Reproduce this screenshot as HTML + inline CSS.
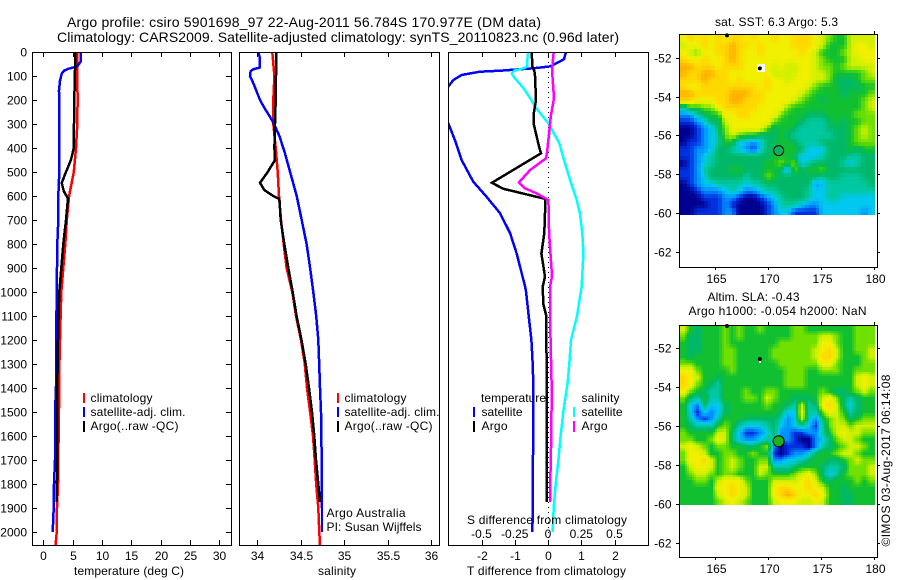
<!DOCTYPE html>
<html lang="en">
<head>
<meta charset="utf-8">
<title>Argo profile 5901698_97</title>
<style>
html,body{margin:0;padding:0;background:#fff;}
svg{display:block;}
text{font-family:"Liberation Sans",sans-serif;font-size:12px;fill:#000;}
.ttl{font-size:14px;}
</style>
</head>
<body>
<svg id="figure" xmlns="http://www.w3.org/2000/svg" width="900" height="580" viewBox="0 0 900 580">
<defs>
<clipPath id="clip-p1"><rect x="32" y="52" width="200" height="493"/></clipPath>
<clipPath id="clip-p2"><rect x="239" y="52" width="200" height="493"/></clipPath>
<clipPath id="clip-p3"><rect x="448" y="52" width="200" height="493"/></clipPath>
</defs>
<rect x="0" y="0" width="900" height="580" fill="#fff"/>
<text class="ttl" x="67" y="27" textLength="474" lengthAdjust="spacing">Argo profile: csiro 5901698_97 22-Aug-2011 56.784S 170.977E (DM data)</text>
<text class="ttl" x="57" y="42" textLength="562" lengthAdjust="spacing">Climatology: CARS2009. Satellite-adjusted climatology: synTS_20110823.nc (0.96d later)</text>

<g id="layer-maps"></g>
<g id="layer-p1" clip-path="url(#clip-p1)"></g>
<g id="layer-p2" clip-path="url(#clip-p2)"></g>
<g id="layer-p3" clip-path="url(#clip-p3)"></g>
<g id="layer-axes"></g>

<text x="74" y="575" textLength="110" lengthAdjust="spacing">temperature (deg C)</text>
<text x="318" y="575" textLength="38" lengthAdjust="spacing">salinity</text>
<text x="467" y="575" textLength="159" lengthAdjust="spacing">T difference from climatology</text>
<text x="467" y="524" textLength="160" lengthAdjust="spacing">S difference from climatology</text>

<rect x="83" y="393" width="2" height="10" fill="#ff0000"/>
<rect x="83" y="407" width="2" height="10" fill="#0000ff"/>
<rect x="83" y="421" width="2" height="11" fill="#000"/>
<text x="90.5" y="402" textLength="62" lengthAdjust="spacing">climatology</text>
<text x="90.5" y="416" textLength="95" lengthAdjust="spacing">satellite-adj. clim.</text>
<text x="90.5" y="430" textLength="88" lengthAdjust="spacing">Argo(..raw -QC)</text>

<rect x="337" y="393" width="2" height="10" fill="#ff0000"/>
<rect x="337" y="407" width="2" height="10" fill="#0000ff"/>
<rect x="337" y="421" width="2" height="11" fill="#000"/>
<text x="344.5" y="402" textLength="62" lengthAdjust="spacing">climatology</text>
<text x="344.5" y="416" textLength="95" lengthAdjust="spacing">satellite-adj. clim.</text>
<text x="344.5" y="430" textLength="88" lengthAdjust="spacing">Argo(..raw -QC)</text>
<text x="326.5" y="517" textLength="79" lengthAdjust="spacing">Argo Australia</text>
<text x="326.5" y="531" textLength="95" lengthAdjust="spacing">PI: Susan Wijffels</text>

<text x="481" y="402" textLength="65" lengthAdjust="spacing">temperature</text>
<rect x="473" y="407" width="2" height="10" fill="#0000ff"/>
<rect x="473" y="421" width="2" height="11" fill="#000"/>
<text x="481.5" y="416" textLength="41" lengthAdjust="spacing">satellite</text>
<text x="481.5" y="430" textLength="26" lengthAdjust="spacing">Argo</text>
<text x="581.5" y="402" textLength="38" lengthAdjust="spacing">salinity</text>
<rect x="573" y="407" width="2" height="10" fill="#00ffff"/>
<rect x="573" y="421" width="2" height="11" fill="#ff00ff"/>
<text x="581.5" y="416" textLength="41" lengthAdjust="spacing">satellite</text>
<text x="581.5" y="430" textLength="26" lengthAdjust="spacing">Argo</text>

<text x="715" y="26" textLength="123" lengthAdjust="spacing">sat. SST: 6.3 Argo: 5.3</text>
<text x="707.5" y="301" textLength="92" lengthAdjust="spacing">Altim. SLA: -0.43</text>
<text x="688.5" y="315" textLength="178" lengthAdjust="spacing">Argo h1000: -0.054 h2000: NaN</text>
<text transform="translate(890,546.5) rotate(-90)" textLength="172" lengthAdjust="spacing">©IMOS 03-Aug-2017 06:14:08</text>
</svg>

<script>
/* ---------- profile data: depth (m) + value ---------- */
const tempClimDepth = [0,100,200,300,400,500,600,700,800,900,1000,1100,1200,1300,1400,1500,1600,1700,1800,1900,2000,2054];
const tempClimValue = [5.8,5.8,5.85,5.8,5.57,5.2,4.4,4.0,3.75,3.4,3.07,2.95,2.85,2.75,2.7,2.67,2.6,2.55,2.5,2.33,2.28,2.1];
const tempSatDepth = [0,40,60,70,78,90,120,160,400,500,600,700,800,900,1000,1200,1400,1500,1700,1800,1900,2000];
const tempSatValue = [6.42,6.35,5.8,4.26,3.53,3.13,2.85,2.67,2.73,2.73,2.56,2.56,2.39,2.33,2.28,2.2,2.16,2.0,2.0,1.82,1.77,1.6];
const tempArgoDepth = [0,60,200,400,420,450,500,545,580,610,700,800,900,1000,1100,1200,1400,1700,1875];
const tempArgoValue = [5.4,5.42,5.28,5.18,5.0,4.7,3.87,3.13,3.5,4.2,3.87,3.4,3.07,2.73,2.6,2.5,2.38,2.38,2.28];

const salClimDepth = [0,100,200,300,400,500,600,700,800,900,1000,1100,1200,1300,1400,1500,1600,1700,1800,1900,2000,2054];
const salClimValue = [34.176,34.2,34.187,34.187,34.215,34.238,34.253,34.276,34.307,34.34,34.406,34.448,34.506,34.55,34.575,34.61,34.644,34.663,34.68,34.705,34.716,34.724];
const salSatDepth = [0,20,65,72,80,100,130,200,230,270,300,350,420,500,600,700,800,900,1000,1100,1200,1300,1400,1500,1700,1900,2000];
const salSatValue = [34.015,34.03,34.03,33.957,33.927,33.92,33.957,34.034,34.08,34.15,34.195,34.257,34.32,34.38,34.456,34.514,34.57,34.61,34.647,34.68,34.705,34.715,34.724,34.736,34.744,34.747,34.747];
const salArgoDepth = [0,200,300,400,450,500,545,575,600,612,700,800,900,1000,1100,1200,1300,1400,1500,1600,1700,1800,1875];
const salArgoValue = [34.222,34.215,34.207,34.2,34.207,34.123,34.034,34.084,34.187,34.257,34.272,34.314,34.36,34.41,34.455,34.512,34.56,34.598,34.632,34.659,34.678,34.705,34.724];

const diffTSatDepth = [0,30,50,60,68,78,82,96,117,144,200,297,367,450,540,603,672,755,840,978,1000,1100,1200,1300,1400,1900,2000];
const diffTSatValue = [0.54,0.48,0.21,0.06,-0.44,-1.44,-2.05,-2.6,-2.85,-3.0,-3.6,-3.0,-2.8,-2.6,-2.25,-1.85,-1.44,-1.14,-0.94,-0.69,-0.66,-0.58,-0.5,-0.46,-0.44,-0.46,-0.47];
const diffTArgoDepth = [0,60,80,100,200,250,300,400,422,545,570,612,672,755,840,936,978,1050,1100,1400,1875];
const diffTArgoValue = [-0.49,-0.47,-0.41,-0.39,-0.36,-0.42,-0.43,-0.26,-0.21,-1.69,-1.34,-0.08,-0.09,-0.11,-0.2,-0.09,-0.16,-0.14,-0.05,-0.04,-0.04];
const diffSSatDepth = [0,30,60,68,78,90,110,150,200,228,297,380,450,540,617,672,755,840,978,1100,1200,1300,1375,1500,1600,1700,1800,1900,2000];
const diffSSatValue = [-0.148,-0.155,-0.155,-0.185,-0.256,-0.273,-0.248,-0.185,-0.125,-0.098,0.003,0.085,0.12,0.17,0.216,0.24,0.258,0.266,0.253,0.218,0.173,0.16,0.148,0.115,0.095,0.078,0.058,0.043,0.035];
const diffSArgoDepth = [0,75,193,270,339,422,443,492,543,568,589,617,755,936,978,1100,1400,1600,1700,1875];
const diffSArgoValue = [0.043,0.03,0.045,0.02,0.008,-0.008,-0.015,-0.135,-0.218,-0.173,-0.085,0.003,0.008,0.03,0.015,0.015,0.028,0.025,0.02,0.015];

/* ---------- tick labels ---------- */
const depthTicks = [0,100,200,300,400,500,600,700,800,900,1000,1100,1200,1300,1400,1500,1600,1700,1800,1900,2000];
const tempTicks = [0,5,10,15,20,25,30];
const salTicks = [34,34.5,35,35.5,36];
const salTickLabels = ["34","34.5","35","35.5","36"];
const diffTTicks = [-2,-1,0,1,2];
const diffSTicks = [-0.5,-0.25,0,0.25,0.5];
const diffSTickLabels = ["-0.5","-0.25","0","0.25","0.5"];
const lonTicks = [165,170,175,180];
const latTicks = [-52,-54,-56,-58,-60,-62];

/* ---------- heatmap levels (0 = coldest/lowest, 11 = warmest/highest) ---------- */
const sstGrid = [
[9,10,9,10,9,10,9,10,10,9,10,9,9,10,9,9,10,10,10,9,8,7,6,6,8,8,8,8],
[8,9,9,10,9,10,10,11,10,10,9,10,9,9,9,9,10,10,10,9,8,6,6,6,8,9,9,8],
[9,8,7,9,9,10,10,11,10,9,9,10,9,9,9,9,9,10,9,8,6,6,6,7,8,9,9,9],
[10,9,9,10,9,9,10,11,10,9,9,9,9,9,9,9,9,9,9,8,7,6,6,6,8,8,9,9],
[11,11,10,10,10,9,10,10,10,9,9,9,9,8,9,8,8,9,9,8,7,7,6,7,8,8,8,8],
[11,10,10,11,11,10,10,9,9,9,9,9,9,8,8,8,8,9,9,8,8,7,6,6,6,6,7,8],
[10,10,10,11,10,10,10,9,10,9,9,9,10,9,9,8,9,9,9,8,8,7,5,5,5,6,7,7],
[10,9,9,10,10,10,10,10,10,10,10,9,10,9,9,9,9,9,8,7,6,6,6,5,5,5,6,6],
[11,11,10,10,10,10,10,11,11,11,10,10,9,9,9,9,9,8,7,6,6,6,6,5,6,6,6,7],
[10,10,9,9,9,10,10,11,11,10,10,10,9,9,9,9,8,7,6,6,5,6,6,6,6,6,7,8],
[4,6,6,7,7,9,10,10,10,10,10,9,9,9,9,7,6,6,6,6,6,6,6,6,6,6,7,8],
[2,2,4,5,6,6,9,9,10,10,9,9,9,9,7,6,6,6,5,5,5,6,6,6,6,7,7,7],
[1,1,2,3,5,5,8,9,9,9,9,9,9,7,6,6,6,5,4,4,4,5,6,5,6,6,7,7],
[0,0,1,2,3,5,7,9,9,9,9,9,7,5,6,6,5,4,4,4,4,5,5,5,6,7,8,7],
[0,0,1,2,3,4,7,8,7,6,6,5,5,5,6,5,4,4,4,4,4,4,5,5,6,7,8,7],
[0,1,1,2,3,4,6,6,3,3,2,3,5,5,6,6,5,4,4,4,5,5,5,5,6,7,7,7],
[1,1,2,2,3,5,5,4,3,2,1,3,5,5,6,6,6,5,3,3,3,5,5,5,6,5,6,6],
[1,1,2,3,4,5,5,5,5,5,5,5,5,6,6,6,5,3,3,3,4,5,5,5,4,4,5,5],
[0,1,2,3,4,5,5,5,5,5,5,5,6,6,7,6,7,3,4,5,5,5,5,4,3,4,5,5],
[1,1,2,4,5,5,5,6,6,5,5,5,6,6,5,2,7,5,6,6,7,5,5,5,5,5,5,5],
[1,1,2,3,5,5,5,5,5,4,5,5,7,6,5,5,5,5,5,5,4,5,5,4,4,4,5,5],
[0,1,2,3,3,4,4,4,4,3,4,4,5,5,5,5,5,5,5,2,3,4,4,4,4,4,4,5],
[0,0,1,2,2,2,3,4,3,2,2,3,4,4,5,5,5,5,4,3,3,4,4,4,4,4,4,4],
[0,0,0,1,1,1,2,2,1,0,0,1,2,3,4,5,5,5,4,3,3,4,4,3,3,3,3,3],
[0,0,0,0,1,1,2,1,0,0,0,0,1,2,4,4,4,3,2,2,3,3,3,3,3,3,3,3],
[0,0,1,1,1,1,2,2,0,0,0,0,1,2,3,3,1,1,1,1,3,3,3,3,3,3,2,3]
];
const slaGrid = [
[8,6,5,6,6,6,7,6,7,6,6,7,6,6,6,6,7,7,6,6,6,6,6,6,6,7,7,7],
[7,5,5,6,6,6,7,6,7,6,6,6,6,6,6,6,7,7,7,7,8,8,7,6,6,7,7,7],
[6,5,5,6,6,6,7,6,6,6,6,6,6,6,7,7,7,7,7,7,9,9,7,6,6,7,7,7],
[6,5,5,6,6,6,7,7,6,6,6,6,6,7,7,7,7,7,7,8,9,10,8,6,6,7,7,8],
[6,5,6,6,6,6,7,7,6,6,6,6,6,7,7,7,7,7,7,8,10,10,8,6,6,6,7,8],
[7,7,6,6,6,6,7,7,6,6,6,6,6,6,7,7,7,7,7,7,9,9,7,6,6,6,7,7],
[9,9,7,6,6,6,6,7,6,6,6,6,6,6,6,7,7,7,6,6,7,7,7,6,6,7,7,7],
[10,9,8,6,6,5,6,6,6,6,6,6,6,6,6,7,7,7,6,6,6,6,6,6,6,8,9,8],
[10,9,7,6,5,4,6,6,6,6,6,6,6,6,6,7,7,7,6,6,6,6,6,6,6,8,9,8],
[9,7,6,5,4,4,6,6,6,7,6,6,7,7,6,6,6,6,6,6,7,6,5,5,6,7,8,7],
[7,5,4,6,4,4,6,6,6,7,7,6,8,7,6,6,5,5,5,6,8,9,7,5,4,5,6,6],
[6,3,2,5,3,3,5,6,6,6,6,6,7,6,6,5,4,8,4,5,9,10,8,5,3,5,6,6],
[6,3,1,3,2,3,5,6,6,6,6,6,6,6,5,3,3,9,4,4,7,9,8,6,4,5,6,6],
[6,4,2,1,2,4,6,6,6,5,5,5,5,5,4,2,3,8,4,2,5,7,8,7,5,6,7,7],
[6,5,4,4,4,6,7,6,4,3,3,3,4,5,3,2,3,4,3,1,4,7,8,8,7,8,8,8],
[7,6,6,6,6,8,8,5,3,1,1,2,3,5,2,2,1,1,2,2,4,6,8,9,8,8,7,7],
[7,7,6,6,7,9,8,5,3,2,2,3,4,4,2,2,1,0,0,2,3,5,7,8,8,7,6,6],
[8,9,8,7,6,7,7,6,6,5,5,6,7,2,0,1,1,1,0,2,4,5,6,7,8,8,7,6],
[7,9,9,8,6,6,7,7,6,6,7,6,6,1,0,1,2,2,3,5,6,6,7,8,8,7,6,6],
[7,9,9,10,8,6,7,8,7,6,6,7,7,2,2,3,3,4,5,6,6,5,5,6,7,8,7,7],
[6,8,9,9,8,6,7,8,7,6,6,8,8,4,4,4,5,6,6,6,5,4,4,5,7,7,7,8],
[6,7,8,8,7,6,7,7,6,6,6,8,7,6,6,6,7,8,9,7,5,3,4,6,7,7,7,8],
[6,6,7,7,6,8,9,9,9,7,6,6,6,8,8,8,8,9,10,8,6,5,6,6,6,7,6,7],
[6,6,6,6,6,9,9,10,9,8,6,6,6,9,10,10,9,9,10,9,8,6,6,5,6,6,6,6],
[6,6,6,6,6,8,9,10,9,8,6,6,6,9,10,11,10,9,9,10,9,6,6,5,5,6,6,6],
[6,6,6,6,6,7,8,9,8,7,6,6,6,8,9,9,9,8,8,9,8,6,6,5,5,6,6,6]
];
const mapPalette = [[0,0,143],[0,48,224],[0,144,255],[0,200,240],[0,200,160],[0,184,104],[16,192,48],[112,224,0],[208,240,0],[240,240,0],[255,216,0],[255,176,0]];
const argoLon = [170.977];
const argoLat = [-56.784];
const islandLon = [166.1,169.2];
const islandLat = [-50.85,-52.55];

/* ---------- axis functions ---------- */
const yDepth = d => 52 + 0.24 * d;
const xTemp = t => 43.3 + 5.87 * t;
const xSal = s => 257 + 87 * (s - 34);
const xDT = t => 548 + 33.25 * t;
const xDS = s => 548 + 133 * s;
const xLon = l => 715.3 + 10.6 * (l - 165);
const yLat1 = l => 57.7 + 19.42 * (-52 - l);
const yLat2 = l => 348.3 + 19.42 * (-52 - l);

const NS = "http://www.w3.org/2000/svg";
function mk(tag, attrs, parent, txt) {
  const el = document.createElementNS(NS, tag);
  for (const k in attrs) el.setAttribute(k, attrs[k]);
  if (txt !== undefined) el.textContent = txt;
  parent.appendChild(el);
  return el;
}
function seriesPath(depths, values, xf) {
  let d = "";
  for (let i = 0; i < depths.length; i++) {
    d += (i ? "L" : "M") + xf(values[i]).toFixed(1) + " " + yDepth(depths[i]).toFixed(1);
  }
  return d;
}
function drawSeries(layerId, name, depths, values, xf, colour) {
  const el = mk("path", {d: seriesPath(depths, values, xf), fill: "none", stroke: colour, "stroke-width": 2.5, "shape-rendering": "crispEdges"}, document.getElementById(layerId));
  
  
}

drawSeries("layer-p1", "temperature-climatology-line", tempClimDepth, tempClimValue, xTemp, "#ff0000");
drawSeries("layer-p1", "temperature-satellite-line", tempSatDepth, tempSatValue, xTemp, "#0000ff");
drawSeries("layer-p1", "temperature-argo-line", tempArgoDepth, tempArgoValue, xTemp, "#000000");
drawSeries("layer-p2", "salinity-climatology-line", salClimDepth, salClimValue, xSal, "#ff0000");
drawSeries("layer-p2", "salinity-satellite-line", salSatDepth, salSatValue, xSal, "#0000ff");
drawSeries("layer-p2", "salinity-argo-line", salArgoDepth, salArgoValue, xSal, "#000000");

const zeroLine = mk("line", {x1: 548.5, x2: 548.5, y1: 52, y2: 545, stroke: "#000", "stroke-width": 1, "stroke-dasharray": "1 4"}, document.getElementById("layer-p3"));


drawSeries("layer-p3", "t-difference-satellite-line", diffTSatDepth, diffTSatValue, xDT, "#0000ff");
drawSeries("layer-p3", "s-difference-satellite-line", diffSSatDepth, diffSSatValue, xDS, "#00ffff");
drawSeries("layer-p3", "t-difference-argo-line", diffTArgoDepth, diffTArgoValue, xDT, "#000000");
drawSeries("layer-p3", "s-difference-argo-line", diffSArgoDepth, diffSArgoValue, xDS, "#ff00ff");

/* ---------- frames and ticks ---------- */
const axes = document.getElementById("layer-axes");
function frame(name, x1, y1, x2, y2) {
  const el = mk("rect", {x: x1 + 0.5, y: y1 + 0.5, width: x2 - x1, height: y2 - y1, fill: "none", stroke: "#000", "stroke-width": 1}, axes);
  
  
}
function tickLine(name, x1, y1, x2, y2) {
  const el = mk("line", {x1: x1, y1: y1, x2: x2, y2: y2, stroke: "#000", "stroke-width": 1, "shape-rendering": "crispEdges"}, axes);
  
  
}
function label(name, x, y, anchor, s) {
  const el = mk("text", {x: x, y: y, "text-anchor": anchor}, axes, s);
  
  
}

frame("temperature-plot-frame", 32, 52, 231, 545);
frame("salinity-plot-frame", 239, 52, 439, 545);
frame("difference-plot-frame", 448, 52, 648, 545);

depthTicks.forEach(d => {
  const y = Math.round(yDepth(d)) + 0.5;
  tickLine("depth-tick-left", 32, y, 37, y);
  tickLine("depth-tick-right", 226, y, 231, y);
  label("depth-tick-label", 27, y + 4, "end", String(d));
});
tempTicks.forEach(t => {
  const x = Math.round(xTemp(t)) + 0.5;
  tickLine("temperature-tick-top", x, 52, x, 57);
  tickLine("temperature-tick-bottom", x, 540, x, 545);
  label("temperature-tick-label", x, 560, "middle", String(t));
});
salTicks.forEach((s, i) => {
  const x = Math.round(xSal(s)) + 0.5;
  tickLine("salinity-tick-top", x, 52, x, 57);
  tickLine("salinity-tick-bottom", x, 540, x, 545);
  label("salinity-tick-label", x, 560, "middle", salTickLabels[i]);
});
diffTTicks.forEach(t => {
  const x = Math.round(xDT(t)) + 0.5;
  tickLine("t-difference-tick-top", x, 52, x, 57);
  tickLine("t-difference-tick-bottom", x, 540, x, 545);
  label("t-difference-tick-label", x, 560, "middle", String(t));
});
diffSTicks.forEach((s, i) => {
  label("s-difference-tick-label", xDS(s), 538, "middle", diffSTickLabels[i]);
});

/* ---------- maps ---------- */
const maps = document.getElementById("layer-maps");
function levelAt(grid, fr, fc) {
  const rows = grid.length, cols = grid[0].length;
  const rr = Math.min(rows - 1, Math.max(0, fr - 0.5)), cc = Math.min(cols - 1, Math.max(0, fc - 0.5));
  const r0 = Math.floor(rr), c0 = Math.floor(cc);
  const r1 = Math.min(rows - 1, r0 + 1), c1 = Math.min(cols - 1, c0 + 1);
  const tr = rr - r0, tc = cc - c0;
  return (grid[r0][c0] * (1 - tc) + grid[r0][c1] * tc) * (1 - tr) + (grid[r1][c0] * (1 - tc) + grid[r1][c1] * tc) * tr;
}
function levelColour(v) {
  const i = Math.min(mapPalette.length - 2, Math.floor(v)), t = v - i;
  const a = mapPalette[i], b = mapPalette[i + 1];
  return "rgb(" + Math.round(a[0] + (b[0] - a[0]) * t) + "," + Math.round(a[1] + (b[1] - a[1]) * t) + "," + Math.round(a[2] + (b[2] - a[2]) * t) + ")";
}
function drawGrid(name, grid, left, top, right, bottom, sub) {
  const rows = grid.length * sub, cols = grid[0].length * sub;
  const cw = (right - left) / cols, ch = (bottom - top) / rows;
  for (let r = 0; r < rows; r++) {
    for (let c = 0; c < cols; c++) {
      const x0 = Math.round(left + c * cw), x1 = Math.round(left + (c + 1) * cw);
      const y0 = Math.round(top + r * ch), y1 = Math.round(top + (r + 1) * ch);
      const v = levelAt(grid, (r + 0.5) / sub, (c + 0.5) / sub);
      const cell = mk("rect", {x: x0, y: y0, width: x1 - x0, height: y1 - y0, fill: levelColour(v), "shape-rendering": "crispEdges"}, maps);
      
      
    }
  }
}
drawGrid("sst-cell", sstGrid, 680, 35, 875, 215, 2);
drawGrid("sla-cell", slaGrid, 680, 326, 875, 505, 3);

function mapOverlay(prefix, yLat, ringFill, ringR, patchW, patchH, patchX, patchY) {
  const patch = mk("rect", {x: patchX, y: patchY, width: patchW, height: patchH, fill: "#fff"}, maps);
  
  
  islandLon.forEach((lon, i) => {
    const dot = mk("circle", {cx: xLon(lon), cy: yLat(islandLat[i]), r: 2, fill: "#000"}, maps);
    
    
  });
  argoLon.forEach((lon, i) => {
    const ring = mk("circle", {cx: xLon(lon), cy: yLat(argoLat[i]), r: ringR, fill: ringFill, stroke: "#000", "stroke-width": 1}, maps);
    
    
  });
}
mapOverlay("sst-map", yLat1, "#10b060", 5, 8, 8, 757, 64);
mapOverlay("sla-map", yLat2, "#20b020", 5.5, 2, 3, 759, 360);

function mapAxes(prefix, yLat, top, bottom) {
  frame(prefix + "-frame", 679, top, 877, bottom);
  lonTicks.forEach(l => {
    const x = Math.round(xLon(l)) + 0.5;
    tickLine(prefix + "-lon-tick-top", x, top - 3, x, top);
    tickLine(prefix + "-lon-tick-bottom", x, bottom, x, bottom + 3);
    label(prefix + "-lon-tick-label", x + 1, bottom + 16, "middle", String(l));
  });
  latTicks.forEach(l => {
    const y = Math.round(yLat(l)) + 0.5;
    tickLine(prefix + "-lat-tick-left", 676, y, 679, y);
    tickLine(prefix + "-lat-tick-right", 877, y, 880, y);
    label(prefix + "-lat-tick-label", 671.5, y + 4, "end", String(l));
  });
}
mapAxes("sst-map", yLat1, 34, 267);
mapAxes("sla-map", yLat2, 325, 557);
</script>
</body>
</html>
